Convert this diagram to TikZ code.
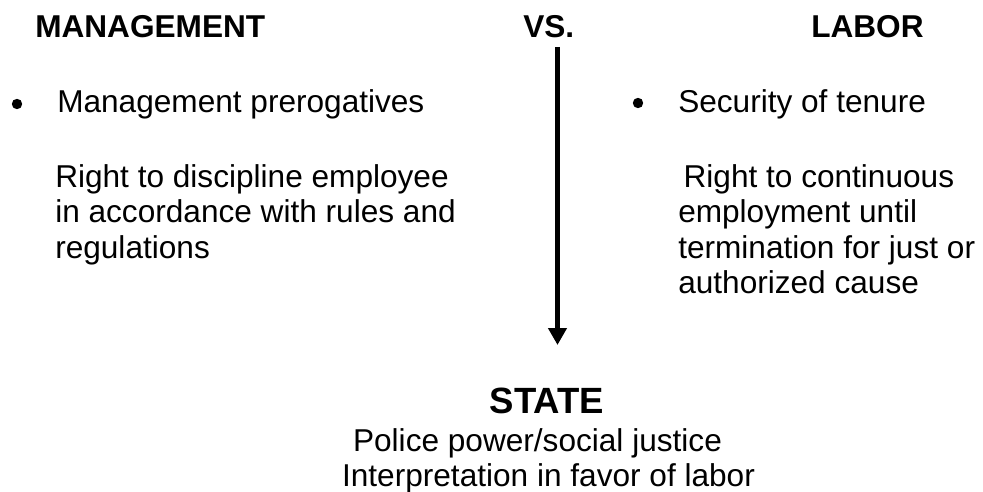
\documentclass[tikz,border=0pt]{standalone}
\usepackage{fontspec}
\setmainfont{Liberation Sans}
\usetikzlibrary{arrows.meta,positioning}

\begin{document}
\begin{tikzpicture}[x=0.75pt, y=-0.75pt,
    every node/.style={inner sep=0pt, font=\fontsize{23.7}{26.6}\selectfont},
    head/.style={anchor=base west, font=\fontsize{23.7}{26.6}\selectfont\bfseries},
    body/.style={anchor=base west, align=left},
    dot/.style={circle, fill=black, minimum size=7.8pt}]
    \useasboundingbox (0,0) rectangle (983,492);

    % Headings
    \node[head] (mgmt) at (35,38) {MANAGEMENT};
    \node[head] (vs) at (523,38) {VS.};
    \node[head] (labor) at (811,38) {LABOR};

    % Bullets
    \node[dot] (mdot) at (17,104) {};
    \node[dot] (ldot) at (638,103) {};
    \node[body] (mpre) at (57,113) {Management prerogatives};
    \node[body] (lsec) at (678,113) {Security of tenure};

    % Rights of each side (base = last line)
    \node[body] (mright) at (55,258) {Right to discipline employee\\in accordance with rules and\\regulations};
    \node[body] (lright) at (678,293.5) {\hspace*{4pt}Right to continuous\\employment until\\termination for just or\\authorized cause};

    % Arrow down to the state
    \coordinate (top) at (557.5,47);
    \coordinate (tip) at (557.5,345);
    \draw[line width=3.75pt, -{Triangle[width=13.5pt,length=12.75pt]}] (top) -- (tip);

    % State
    \node[anchor=base, font=\fontsize{27.4}{30}\selectfont\bfseries] (state) at (547,413) {STATE};
    \node[anchor=base, align=center] (power) at (548.5,486.5) {Police power/social justice\hspace*{16.5pt}\\Interpretation in favor of labor};
\end{tikzpicture}
\end{document}
